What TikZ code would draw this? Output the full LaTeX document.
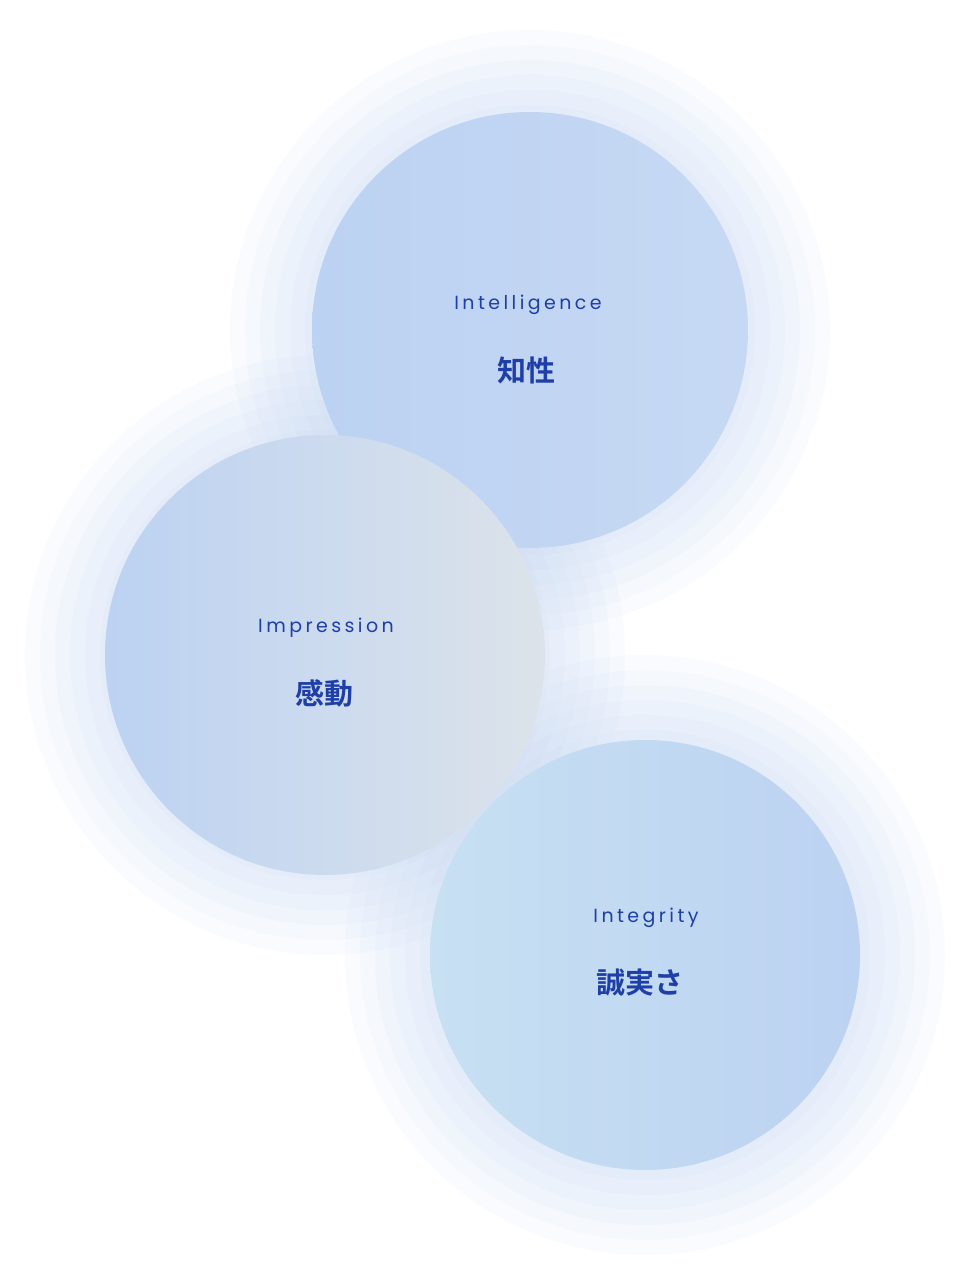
\documentclass[tikz,border=0pt]{standalone}
\usepackage{fontspec}
\newfontfamily\jpfont{Noto Sans CJK JP}[BoldFont={* Bold}]
\newfontfamily\enfont{Poppins}[LetterSpace=18]
\definecolor{ballblue}{HTML}{BCD2F2}
\definecolor{ballgrey}{HTML}{DCE3EA}
\definecolor{ballcyan}{HTML}{C7E0F2}
\definecolor{inkblue}{HTML}{1F3FA8}
\tikzset{
  halo/.style={fill=ballblue,opacity=0.07,draw=none},
  entext/.style={text=inkblue,font=\enfont\fontsize{19}{20}\selectfont},
  jptext/.style={text=inkblue,font=\jpfont\bfseries\fontsize{29}{30}\selectfont}
}
\begin{document}
\begin{tikzpicture}[x=1pt,y=1pt]
\useasboundingbox[fill=white] (0,0) rectangle (966,1270);
\foreach \cx/\cy in {530/940,325/615,645/315}
  \foreach \r in {300,285,...,220}
    \fill[halo] (\cx,\cy) circle (\r);
\shade[left color=ballblue,right color=ballblue!85!white] (530,940) circle (218);
\shade[left color=ballblue,right color=ballgrey] (325,615) circle (220);
\shade[left color=ballcyan,right color=ballblue] (645,315) circle (215);
\node[entext] (A) at (528,965) {Intelligence};
\node[jptext] (B) at (526,900) {知性};
\node[entext] (C) at (326,642) {Impression};
\node[jptext] (D) at (324,577) {感動};
\node[entext] (E) at (646,352) {Integrity};
\node[jptext] (F) at (640,287) {誠実さ};
\end{tikzpicture}
\end{document}
